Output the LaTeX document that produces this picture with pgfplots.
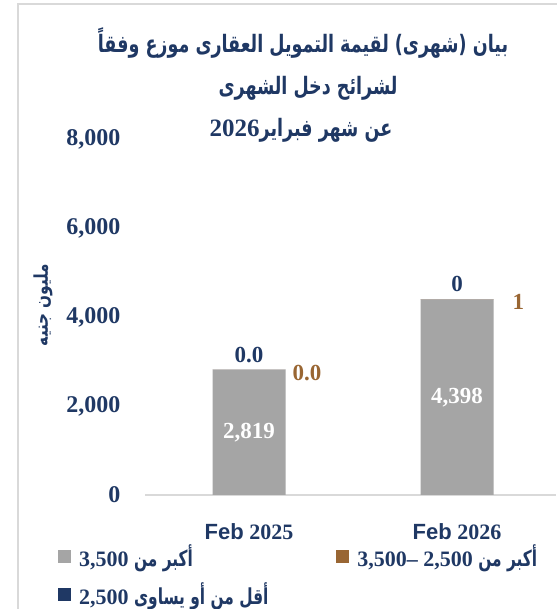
\documentclass[border=0pt]{standalone}
\usepackage{pgfplots}
\pgfplotsset{compat=1.18}
\usepackage{fontspec}
\setmainfont{Liberation Serif}
\setsansfont{Liberation Sans}
\newfontfamily\arabicfont[Script=Arabic, FakeStretch=0.8]{DejaVu Sans}
\newfontfamily\arabictitle[Script=Arabic, FakeStretch=0.73]{DejaVu Sans}
\newfontfamily\arabicnarrow[Script=Arabic, FakeStretch=0.7]{DejaVu Sans}
\TeXXeTstate=1
\definecolor{navy}{HTML}{1F3864}
\definecolor{barGray}{HTML}{A5A5A5}
\definecolor{barBrown}{HTML}{996633}
\definecolor{frameGray}{HTML}{D9D9D9}
\newcommand{\AR}[1]{{\arabicfont #1}}
\newcommand{\ARt}[1]{{\arabictitle #1}}
\newcommand{\ARn}[1]{{\arabicnarrow #1}}

\begin{document}
\begin{tikzpicture}[x=1pt,y=1pt]
\useasboundingbox (0,0) rectangle (556,609);
\draw[frameGray, line width=2pt] (18,-20) -- (18,605) -- (600,605);

% title
\node[font=\fontsize{24}{26}\selectfont\bfseries, text=navy] at (303,566)
  {\beginR\ARt{بيان (شهرى) لقيمة التمويل العقارى موزع وفقاً}\endR};
\node[font=\fontsize{24}{26}\selectfont\bfseries, text=navy] at (308,521)
  {\beginR\ARt{لشرائح دخل الشهرى}\endR};
\node[font=\fontsize{24}{26}\selectfont\bfseries, text=navy] at (301,479)
  {\beginR\ARt{عن شهر فبراير}\beginL{\fontsize{25}{26}\selectfont 2026}\endL\endR};
\node[font=\fontsize{19}{20}\selectfont\bfseries, text=navy, rotate=90] at (43,304)
  {\beginR\AR{مليون جنيه}\endR};

\begin{axis}[
  at={(145pt,114pt)}, anchor=south west,
  scale only axis, width=411pt, height=356pt,
  ybar stacked, bar width=73pt,
  xmin=-0.5, xmax=1.476, ymin=0, ymax=8000,
  xtick={0,1},
  xticklabels={{\sffamily Feb} 2025,{\sffamily Feb} 2026},
  ytick={0,2000,4000,6000,8000},
  axis x line*=bottom, axis y line*=left,
  x axis line style={draw=frameGray, line width=2pt, -},
  y axis line style={draw=none},
  major tick length=0pt,
  tick style={draw=none},
  ticklabel style={text=navy},
  yticklabel style={font=\fontsize{24}{26}\selectfont\bfseries, xshift=-21pt},
  xticklabel style={font=\fontsize{22}{24}\selectfont\bfseries, yshift=-25pt},
  /pgf/number format/.cd, 1000 sep={,}, assume math mode=true,
  /pgfplots/.cd,
  nodes near coords,
  point meta=explicit symbolic,
  every node near coord/.append style={font=\fontsize{23}{25}\selectfont\bfseries},
  legend columns=2,
  legend cell align=left,
  legend image code/.code={\fill[#1] (0pt,-6.5pt) rectangle (13pt,6.5pt);},
  legend style={draw=none, fill=none, at={(-0.219,-0.129)}, anchor=north west,
    font=\fontsize{22}{24}\selectfont\bfseries, text=navy, row sep=10pt,
    /tikz/every odd column/.append style={column sep=6pt},
    /tikz/every even column/.append style={column sep=66pt}},
]
% gray: labels centred in the segment (default for stacked bars)
\addplot[fill=barGray, draw=none,
  every node near coord/.append style={text=white}]
  coordinates {(0,2819)[2,819] (1,4398)[4,398]};
\addlegendentry{\beginR\ARn{أكبر من }\beginL 3,500\endL\endR}
\addplot[fill=barBrown, draw=none,
  visualization depends on={rawy \as \rawy},
  every node near coord/.append style={text=barBrown, anchor=west,
    xshift={40+12*\rawy}, yshift=-3pt}]
  coordinates {(0,0.01)[0.0] (1,1)[1]};
\addlegendentry{\beginR\ARn{أكبر من }\beginL 3,500– 2,500\endL\endR}
\addplot[fill=navy, draw=none,
  every node near coord/.append style={text=navy, yshift=15pt}]
  coordinates {(0,0.01)[0.0] (1,0.01)[0]};
\addlegendentry{\beginR\ARn{أقل من أو يساوى }\beginL 2,500\endL\endR}
\end{axis}
\end{tikzpicture}
\end{document}
